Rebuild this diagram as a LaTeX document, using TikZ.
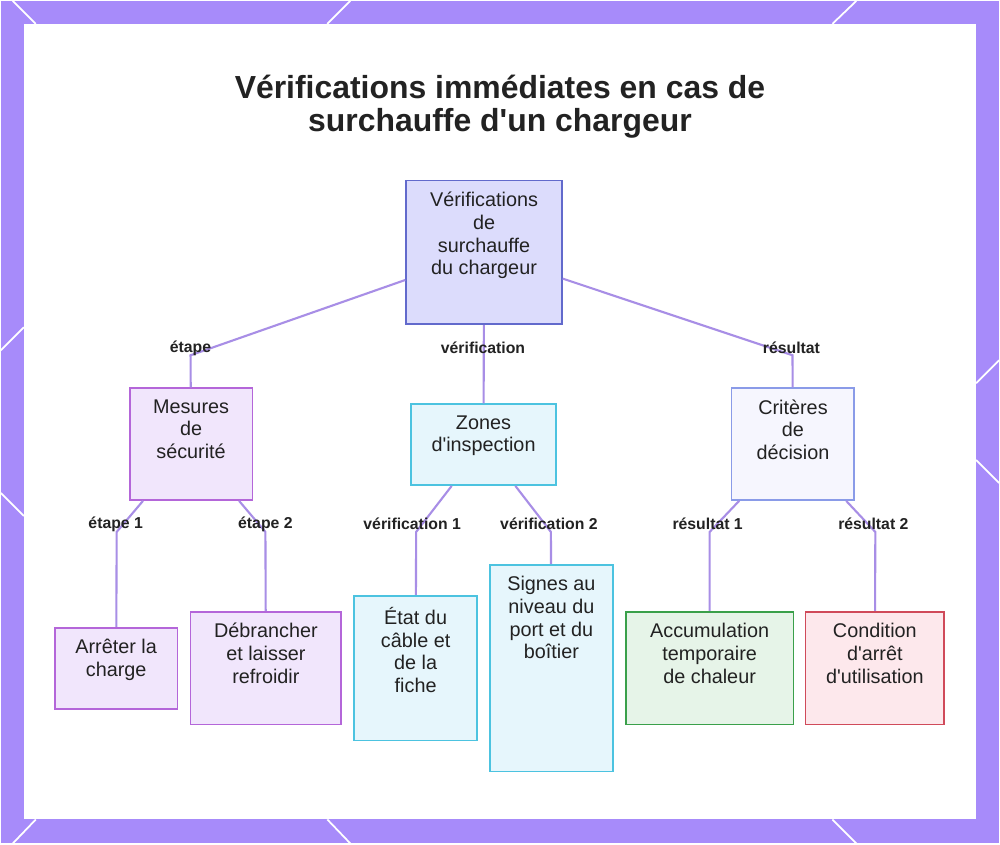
\documentclass[tikz,border=0pt]{standalone}
\usepackage{fontspec}
\setmainfont{Liberation Sans}
\definecolor{bgpurple}{HTML}{A78BFA}
\definecolor{link}{HTML}{A88EE6}
\definecolor{ink}{HTML}{222222}
\newcommand{\q}{\textquotesingle}

\begin{document}
\begin{tikzpicture}[x=0.02cm, y=-0.02cm,
	box/.style={draw, line width=1pt, inner sep=0pt},
	txt/.style={anchor=north, align=center, inner sep=0pt, text=ink,
		font=\fontsize{11.3}{13}\selectfont},
	lbl/.style={inner sep=1pt, text=ink, font=\fontsize{9}{10}\selectfont\bfseries},
	link/.style={draw=link, line width=1.2pt}]
	% frame
	\fill[bgpurple] (0,0) rectangle (1000,844);
	\fill[white] (23,23) rectangle (977,820);
	\draw[white, line width=1pt] (12,0) -- (35,23)  (350,0) -- (327,23)  (857,0) -- (833,23)
		(0,350) -- (23,327)  (0,493) -- (23,516)
		(1000,360) -- (977,383)  (1000,483) -- (977,460)
		(12,844) -- (35,820)  (327,820) -- (350,844)  (833,820) -- (857,844);
	
	\node[text=ink, align=center, font=\fontsize{18.2}{19.3}\selectfont\bfseries] at (500,106)(title)
		{Vérifications immédiates en cas de\\surchauffe d\q un chargeur};
	
	% level 0
	\node[box, draw={rgb,255:red,98;green,106;blue,204}, fill={rgb,255:red,220;green,220;blue,252},
		minimum width=3.12cm, minimum height=2.88cm] at (484,252)(root){};
	\node[txt] at (484,191)(roott){Vérifications\\de\\surchauffe\\du chargeur};
	
	% level 1
	\node[box, draw={rgb,255:red,180;green,102;blue,217}, fill={rgb,255:red,241;green,230;blue,252},
		minimum width=2.46cm, minimum height=2.24cm] at (190.5,444)(mes){};
	\node[txt] at (190.5,399)(mest){Mesures\\de\\sécurité};
	\node[box, draw={rgb,255:red,76;green,195;blue,224}, fill={rgb,255:red,230;green,246;blue,252},
		minimum width=2.9cm, minimum height=1.62cm] at (483.5,444.5)(zon){};
	\node[txt] at (483.5,415)(zont){Zones\\d\q inspection};
	\node[box, draw={rgb,255:red,138;green,155;blue,232}, fill={rgb,255:red,246;green,246;blue,254},
		minimum width=2.46cm, minimum height=2.24cm] at (793.5,444)(cri){};
	\node[txt] at (793.5,399)(crit){Critères\\de\\décision};
	
	% level 2
	\node[box, draw={rgb,255:red,180;green,102;blue,217}, fill={rgb,255:red,241;green,230;blue,252},
		minimum width=2.46cm, minimum height=1.62cm] at (115.5,668.5)(arr){};
	\node[txt] at (115.5,639)(arrt){Arrêter la\\charge};
	\node[box, draw={rgb,255:red,180;green,102;blue,217}, fill={rgb,255:red,241;green,230;blue,252},
		minimum width=3.02cm, minimum height=2.26cm] at (265.5,668.5)(deb){};
	\node[txt] at (265.5,623)(debt){Débrancher\\et laisser\\refroidir};
	\node[box, draw={rgb,255:red,76;green,195;blue,224}, fill={rgb,255:red,230;green,246;blue,252},
		minimum width=2.46cm, minimum height=2.9cm] at (415.5,668.5)(eta){};
	\node[txt] at (415.5,607)(etat){État du\\câble et\\de la\\fiche};
	\node[box, draw={rgb,255:red,76;green,195;blue,224}, fill={rgb,255:red,230;green,246;blue,252},
		minimum width=2.46cm, minimum height=4.14cm] at (551.5,668.5)(sig){};
	\node[txt] at (551.5,576)(sigt){Signes au\\niveau du\\port et du\\boîtier};
	\node[box, draw={rgb,255:red,58;green,160;blue,74}, fill={rgb,255:red,230;green,244;blue,232},
		minimum width=3.36cm, minimum height=2.26cm] at (710,668.5)(acc){};
	\node[txt] at (710,623)(acct){Accumulation\\temporaire\\de chaleur};
	\node[box, draw={rgb,255:red,208;green,74;blue,90}, fill={rgb,255:red,253;green,232;blue,236},
		minimum width=2.78cm, minimum height=2.26cm] at (875.5,668.5)(con){};
	\node[txt] at (875.5,623)(cont){Condition\\d\q arrêt\\d\q utilisation};
	
	% bends
	\coordinate (b1) at (190,355);
	\coordinate (b2) at (793,355);
	\coordinate (b11) at (116,532);
	\coordinate (b12) at (265,532);
	\coordinate (b21) at (416,532);
	\coordinate (b22) at (551,532);
	\coordinate (b31) at (710,532);
	\coordinate (b32) at (876,532);
	
	\path[link] (root) -- (b1) -- (mes)
		(root) -- (zon)
		(root) -- (b2) -- (cri)
		(mes) -- (b11) -- (arr)
		(mes) -- (b12) -- (deb)
		(zon) -- (b21) -- (eta)
		(zon) -- (b22) -- (sig)
		(cri) -- (b31) -- (acc)
		(cri) -- (b32) -- (con);
	
	\node[lbl] at (190,348)(l1){étape};
	\node[lbl] at (483,348)(l2){vérification};
	\node[lbl] at (792,348)(l3){résultat};
	\node[lbl] at (115,524)(l11){étape 1};
	\node[lbl] at (265,524)(l12){étape 2};
	\node[lbl] at (412,524)(l21){vérification 1};
	\node[lbl] at (549,524)(l22){vérification 2};
	\node[lbl] at (708,524)(l31){résultat 1};
	\node[lbl] at (874,524)(l32){résultat 2};
\end{tikzpicture}
\end{document}
